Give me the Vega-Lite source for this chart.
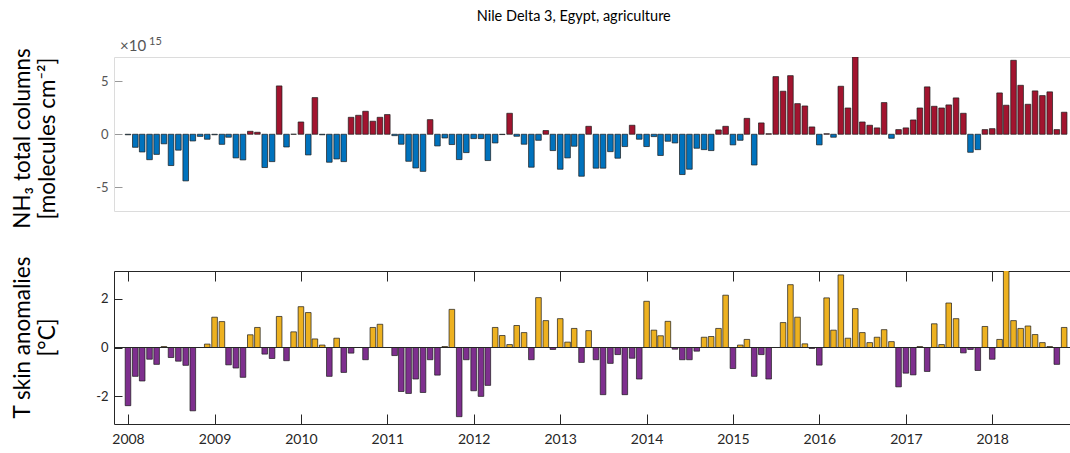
{
  "$schema": "https://vega.github.io/schema/vega-lite/v6.json",
  "background": "white",
  "padding": {"left": 10, "top": 8, "right": 0, "bottom": 0},
  "config": {"view": {"stroke": null}, "font": "Lato"},
  "title": {"text": "Nile Delta 3, Egypt, agriculture", "font": "Lato", "fontSize": 14.5, "fontWeight": "normal", "color": "#000", "anchor": "middle", "offset": 12, "dx": 32},
  "data": {"values": [
    {"date": "2008-01-01", "nh3": -0.05, "tskin": -2.38},
    {"date": "2008-02-01", "nh3": -1.23, "tskin": -1.18},
    {"date": "2008-03-01", "nh3": -1.67, "tskin": -1.37},
    {"date": "2008-04-01", "nh3": -2.4, "tskin": -0.48},
    {"date": "2008-05-01", "nh3": -1.9, "tskin": -0.69},
    {"date": "2008-06-01", "nh3": -0.9, "tskin": 0.04},
    {"date": "2008-07-01", "nh3": -2.95, "tskin": -0.41},
    {"date": "2008-08-01", "nh3": -1.5, "tskin": -0.56},
    {"date": "2008-09-01", "nh3": -4.4, "tskin": -0.73},
    {"date": "2008-10-01", "nh3": -0.63, "tskin": -2.59},
    {"date": "2008-11-01", "nh3": -0.2, "tskin": 0},
    {"date": "2008-12-01", "nh3": -0.47, "tskin": 0.14},
    {"date": "2009-01-01", "nh3": -0.05, "tskin": 1.24},
    {"date": "2009-02-01", "nh3": -0.95, "tskin": 1.06},
    {"date": "2009-03-01", "nh3": -0.28, "tskin": -0.71},
    {"date": "2009-04-01", "nh3": -2.23, "tskin": -0.84},
    {"date": "2009-05-01", "nh3": -2.42, "tskin": -1.22},
    {"date": "2009-06-01", "nh3": 0.28, "tskin": 0.52},
    {"date": "2009-07-01", "nh3": 0.19, "tskin": 0.82},
    {"date": "2009-08-01", "nh3": -3.14, "tskin": -0.27},
    {"date": "2009-09-01", "nh3": -2.58, "tskin": -0.45},
    {"date": "2009-10-01", "nh3": 4.56, "tskin": 1.27},
    {"date": "2009-11-01", "nh3": -1.2, "tskin": -0.54},
    {"date": "2009-12-01", "nh3": 0, "tskin": 0.64},
    {"date": "2010-01-01", "nh3": 1.16, "tskin": 1.67},
    {"date": "2010-02-01", "nh3": -1.95, "tskin": 1.43},
    {"date": "2010-03-01", "nh3": 3.46, "tskin": 0.35},
    {"date": "2010-04-01", "nh3": -0.05, "tskin": 0.1},
    {"date": "2010-05-01", "nh3": -2.64, "tskin": -1.18},
    {"date": "2010-06-01", "nh3": -2.33, "tskin": 0.38},
    {"date": "2010-07-01", "nh3": -2.58, "tskin": -1.02},
    {"date": "2010-08-01", "nh3": 1.6, "tskin": -0.23},
    {"date": "2010-09-01", "nh3": 1.79, "tskin": 0},
    {"date": "2010-10-01", "nh3": 2.17, "tskin": -0.5},
    {"date": "2010-11-01", "nh3": 1.23, "tskin": 0.82},
    {"date": "2010-12-01", "nh3": 1.6, "tskin": 0.95},
    {"date": "2011-01-01", "nh3": 1.86, "tskin": 0},
    {"date": "2011-02-01", "nh3": -0.13, "tskin": -0.33},
    {"date": "2011-03-01", "nh3": -0.94, "tskin": -1.8},
    {"date": "2011-04-01", "nh3": -2.55, "tskin": -1.88},
    {"date": "2011-05-01", "nh3": -3.18, "tskin": -1.29},
    {"date": "2011-06-01", "nh3": -3.5, "tskin": -1.84},
    {"date": "2011-07-01", "nh3": 1.38, "tskin": -0.5},
    {"date": "2011-08-01", "nh3": -1.1, "tskin": -1.13},
    {"date": "2011-09-01", "nh3": -0.35, "tskin": 0.04},
    {"date": "2011-10-01", "nh3": -0.97, "tskin": 1.56},
    {"date": "2011-11-01", "nh3": -2.39, "tskin": -2.83},
    {"date": "2011-12-01", "nh3": -1.73, "tskin": -0.5},
    {"date": "2012-01-01", "nh3": -0.41, "tskin": -1.77},
    {"date": "2012-02-01", "nh3": -0.41, "tskin": -2.0},
    {"date": "2012-03-01", "nh3": -2.48, "tskin": -1.55},
    {"date": "2012-04-01", "nh3": -0.82, "tskin": 0.82},
    {"date": "2012-05-01", "nh3": -0.03, "tskin": 0.49},
    {"date": "2012-06-01", "nh3": 1.98, "tskin": 0.12},
    {"date": "2012-07-01", "nh3": -0.19, "tskin": 0.9},
    {"date": "2012-08-01", "nh3": -0.94, "tskin": 0.61},
    {"date": "2012-09-01", "nh3": -3.11, "tskin": -0.5},
    {"date": "2012-10-01", "nh3": -0.57, "tskin": 2.04},
    {"date": "2012-11-01", "nh3": 0.35, "tskin": 1.1},
    {"date": "2012-12-01", "nh3": -1.54, "tskin": -0.08},
    {"date": "2013-01-01", "nh3": -3.3, "tskin": 1.18},
    {"date": "2013-02-01", "nh3": -2.23, "tskin": 0.22},
    {"date": "2013-03-01", "nh3": -1.13, "tskin": 0.78},
    {"date": "2013-04-01", "nh3": -3.96, "tskin": -0.61},
    {"date": "2013-05-01", "nh3": 0.75, "tskin": 0.69},
    {"date": "2013-06-01", "nh3": -3.2, "tskin": -0.5},
    {"date": "2013-07-01", "nh3": -3.2, "tskin": -1.93},
    {"date": "2013-08-01", "nh3": -1.64, "tskin": -0.65},
    {"date": "2013-09-01", "nh3": -2.26, "tskin": -0.29},
    {"date": "2013-10-01", "nh3": -1.16, "tskin": -1.93},
    {"date": "2013-11-01", "nh3": 0.85, "tskin": -0.44},
    {"date": "2013-12-01", "nh3": -0.47, "tskin": -1.29},
    {"date": "2014-01-01", "nh3": -1.16, "tskin": 1.89},
    {"date": "2014-02-01", "nh3": -0.22, "tskin": 0.71},
    {"date": "2014-03-01", "nh3": -2.0, "tskin": 0.48},
    {"date": "2014-04-01", "nh3": -0.66, "tskin": 1.07},
    {"date": "2014-05-01", "nh3": -0.82, "tskin": -0.07},
    {"date": "2014-06-01", "nh3": -3.8, "tskin": -0.5},
    {"date": "2014-07-01", "nh3": -3.3, "tskin": -0.5},
    {"date": "2014-08-01", "nh3": -1.32, "tskin": -0.15},
    {"date": "2014-09-01", "nh3": -1.45, "tskin": 0.42},
    {"date": "2014-10-01", "nh3": -1.54, "tskin": 0.45},
    {"date": "2014-11-01", "nh3": 0.41, "tskin": 0.78},
    {"date": "2014-12-01", "nh3": 0.75, "tskin": 2.14},
    {"date": "2015-01-01", "nh3": -1.0, "tskin": -0.86},
    {"date": "2015-02-01", "nh3": -0.57, "tskin": 0.1},
    {"date": "2015-03-01", "nh3": 1.5, "tskin": 0.33},
    {"date": "2015-04-01", "nh3": -2.9, "tskin": -1.18},
    {"date": "2015-05-01", "nh3": 1.07, "tskin": -0.29},
    {"date": "2015-06-01", "nh3": 0.05, "tskin": -1.29},
    {"date": "2015-07-01", "nh3": 5.44, "tskin": 0},
    {"date": "2015-08-01", "nh3": 4.06, "tskin": 1.02},
    {"date": "2015-09-01", "nh3": 5.53, "tskin": 2.57},
    {"date": "2015-10-01", "nh3": 2.89, "tskin": 1.24},
    {"date": "2015-11-01", "nh3": 2.67, "tskin": 0.15},
    {"date": "2015-12-01", "nh3": 0.69, "tskin": -0.04},
    {"date": "2016-01-01", "nh3": -1.0, "tskin": -0.72},
    {"date": "2016-02-01", "nh3": 0.05, "tskin": 2.03},
    {"date": "2016-03-01", "nh3": -0.28, "tskin": 0.71},
    {"date": "2016-04-01", "nh3": 4.53, "tskin": 2.97},
    {"date": "2016-05-01", "nh3": 2.48, "tskin": 0.38},
    {"date": "2016-06-01", "nh3": 7.3, "tskin": 1.59},
    {"date": "2016-07-01", "nh3": 1.16, "tskin": 0.61},
    {"date": "2016-08-01", "nh3": 0.85, "tskin": 0.2},
    {"date": "2016-09-01", "nh3": 0.6, "tskin": 0.42},
    {"date": "2016-10-01", "nh3": 2.99, "tskin": 0.73},
    {"date": "2016-11-01", "nh3": -0.38, "tskin": 0.24},
    {"date": "2016-12-01", "nh3": 0.44, "tskin": -1.61},
    {"date": "2017-01-01", "nh3": 0.6, "tskin": -1.05},
    {"date": "2017-02-01", "nh3": 1.35, "tskin": -1.12},
    {"date": "2017-03-01", "nh3": 2.48, "tskin": 0.04},
    {"date": "2017-04-01", "nh3": 4.47, "tskin": -0.98},
    {"date": "2017-05-01", "nh3": 2.64, "tskin": 0.97},
    {"date": "2017-06-01", "nh3": 2.48, "tskin": 0.12},
    {"date": "2017-07-01", "nh3": 2.77, "tskin": 1.82},
    {"date": "2017-08-01", "nh3": 3.43, "tskin": 1.18},
    {"date": "2017-09-01", "nh3": 1.98, "tskin": -0.22},
    {"date": "2017-10-01", "nh3": -1.7, "tskin": -0.08},
    {"date": "2017-11-01", "nh3": -1.45, "tskin": -0.94},
    {"date": "2017-12-01", "nh3": 0.44, "tskin": 0.86},
    {"date": "2018-01-01", "nh3": 0.53, "tskin": -0.48},
    {"date": "2018-02-01", "nh3": 3.9, "tskin": 0.33},
    {"date": "2018-03-01", "nh3": 2.74, "tskin": 3.3},
    {"date": "2018-04-01", "nh3": 6.98, "tskin": 1.1},
    {"date": "2018-05-01", "nh3": 4.62, "tskin": 0.78},
    {"date": "2018-06-01", "nh3": 2.83, "tskin": 0.88},
    {"date": "2018-07-01", "nh3": 4.09, "tskin": 0.53},
    {"date": "2018-08-01", "nh3": 3.65, "tskin": 0.2},
    {"date": "2018-09-01", "nh3": 4.0, "tskin": 0.04},
    {"date": "2018-10-01", "nh3": 0.44, "tskin": -0.69},
    {"date": "2018-11-01", "nh3": 2.08, "tskin": 0.82}
  ]},
  "bounds": "flush",
  "spacing": 60,
  "vconcat": [
    {
      "width": 958,
      "height": 154,
      "layer": [
        {
          "mark": {"type": "bar", "width": 5.6, "stroke": "#1a1a1a", "strokeWidth": 0.7, "clip": true},
          "encoding": {
            "x": {"field": "date", "type": "temporal",
              "scale": {"type": "utc", "domain": [{"year": 2007, "month": 11, "date": 24, "utc": true}, {"year": 2018, "month": 11, "date": 13, "utc": true}]},
              "axis": {"orient": "bottom", "labels": false, "ticks": false, "grid": false, "title": null, "domainColor": "#dcdcdc"}},
            "y": {"field": "nh3", "type": "quantitative",
              "scale": {"domain": [-7.24, 7.29], "nice": false, "zero": false},
              "axis": {"values": [-5, 0, 5], "labelExpr": "'' + datum.value", "grid": false, "tickSize": -8, "tickColor": "#999", "domainColor": "#dcdcdc", "labelColor": "#555", "labelFontSize": 13, "labelPadding": 14,
                "title": ["NH₃ total columns", "[molecules cm⁻²]"], "titleFontSize": 22.5, "titleFontWeight": "normal", "titleColor": "#000", "titleAngle": -90, "titleAlign": "center", "titleBaseline": "top", "titleX": -103, "titleY": 81, "titleLineHeight": 25}},
            "color": {"condition": {"test": "datum.nh3 >= 0", "value": "#A2142F"}, "value": "#0072BD"}
          }
        },
        {
          "mark": {"type": "bar", "opacity": 0, "clip": true},
          "encoding": {
            "x": {"field": "date", "type": "temporal", "axis": {"orient": "top", "labels": false, "ticks": false, "grid": false, "title": null, "domainColor": "#dcdcdc"}},
            "y": {"field": "nh3", "type": "quantitative"}
          }
        },
        {
          "data": {"values": [{"label": "×10"}]},
          "mark": {"type": "text", "align": "left", "baseline": "alphabetic", "dy": -6, "dx": 1, "fontSize": 15, "color": "#555"},
          "encoding": {
            "text": {"field": "label"},
            "x": {"datum": {"year": 2007, "month": 11, "date": 24, "utc": true}, "type": "temporal", "axis": null},
            "y": {"datum": 7.29, "type": "quantitative"}
          }
        },
        {
          "data": {"values": [{"label": "15"}]},
          "mark": {"type": "text", "align": "left", "baseline": "alphabetic", "dy": -12, "dx": 30, "fontSize": 11, "color": "#555"},
          "encoding": {
            "text": {"field": "label"},
            "x": {"datum": {"year": 2007, "month": 11, "date": 24, "utc": true}, "type": "temporal", "axis": null},
            "y": {"datum": 7.29, "type": "quantitative"}
          }
        }
      ],
      "resolve": {"axis": {"x": "independent"}}
    },
    {
      "width": 958,
      "height": 153,
      "layer": [
        {
          "mark": {"type": "bar", "width": 5.6, "stroke": "#1a1a1a", "strokeWidth": 0.7, "clip": true},
          "encoding": {
            "x": {"field": "date", "type": "temporal",
              "scale": {"type": "utc", "domain": [{"year": 2007, "month": 11, "date": 24, "utc": true}, {"year": 2018, "month": 11, "date": 13, "utc": true}]},
              "axis": {"orient": "bottom", "format": "%Y", "tickCount": {"interval": "year", "step": 1}, "grid": false, "title": null, "tickSize": -10, "tickColor": "#262626", "domainColor": "#262626", "labelColor": "#262626", "labelFontSize": 14, "labelPadding": 18, "labelFlush": false, "labelOverlap": false}},
            "y": {"field": "tskin", "type": "quantitative",
              "scale": {"domain": [-3.13, 3.13], "nice": false, "zero": false},
              "axis": {"values": [-2, 0, 2], "labelExpr": "'' + datum.value", "grid": false, "tickSize": -8, "tickColor": "#262626", "domainColor": "#262626", "labelColor": "#262626", "labelFontSize": 13, "labelPadding": 14,
                "title": ["T skin anomalies", "[°C]"], "titleFontSize": 22.5, "titleFontWeight": "normal", "titleColor": "#000", "titleAngle": -90, "titleAlign": "center", "titleBaseline": "top", "titleX": -103, "titleY": 66, "titleLineHeight": 25}},
            "color": {"condition": {"test": "datum.tskin >= 0", "value": "#EDB120"}, "value": "#7E2F8E"}
          }
        },
        {
          "mark": {"type": "rule", "color": "#262626", "strokeWidth": 1},
          "encoding": {"y": {"datum": 0, "type": "quantitative"}}
        },
        {
          "mark": {"type": "bar", "opacity": 0, "clip": true},
          "encoding": {
            "x": {"field": "date", "type": "temporal", "axis": {"orient": "top", "labels": false, "tickCount": {"interval": "year", "step": 1}, "grid": false, "title": null, "tickSize": -10, "tickColor": "#262626", "domainColor": "#262626"}},
            "y": {"field": "tskin", "type": "quantitative"}
          }
        }
      ],
      "resolve": {"axis": {"x": "independent"}}
    }
  ]
}
